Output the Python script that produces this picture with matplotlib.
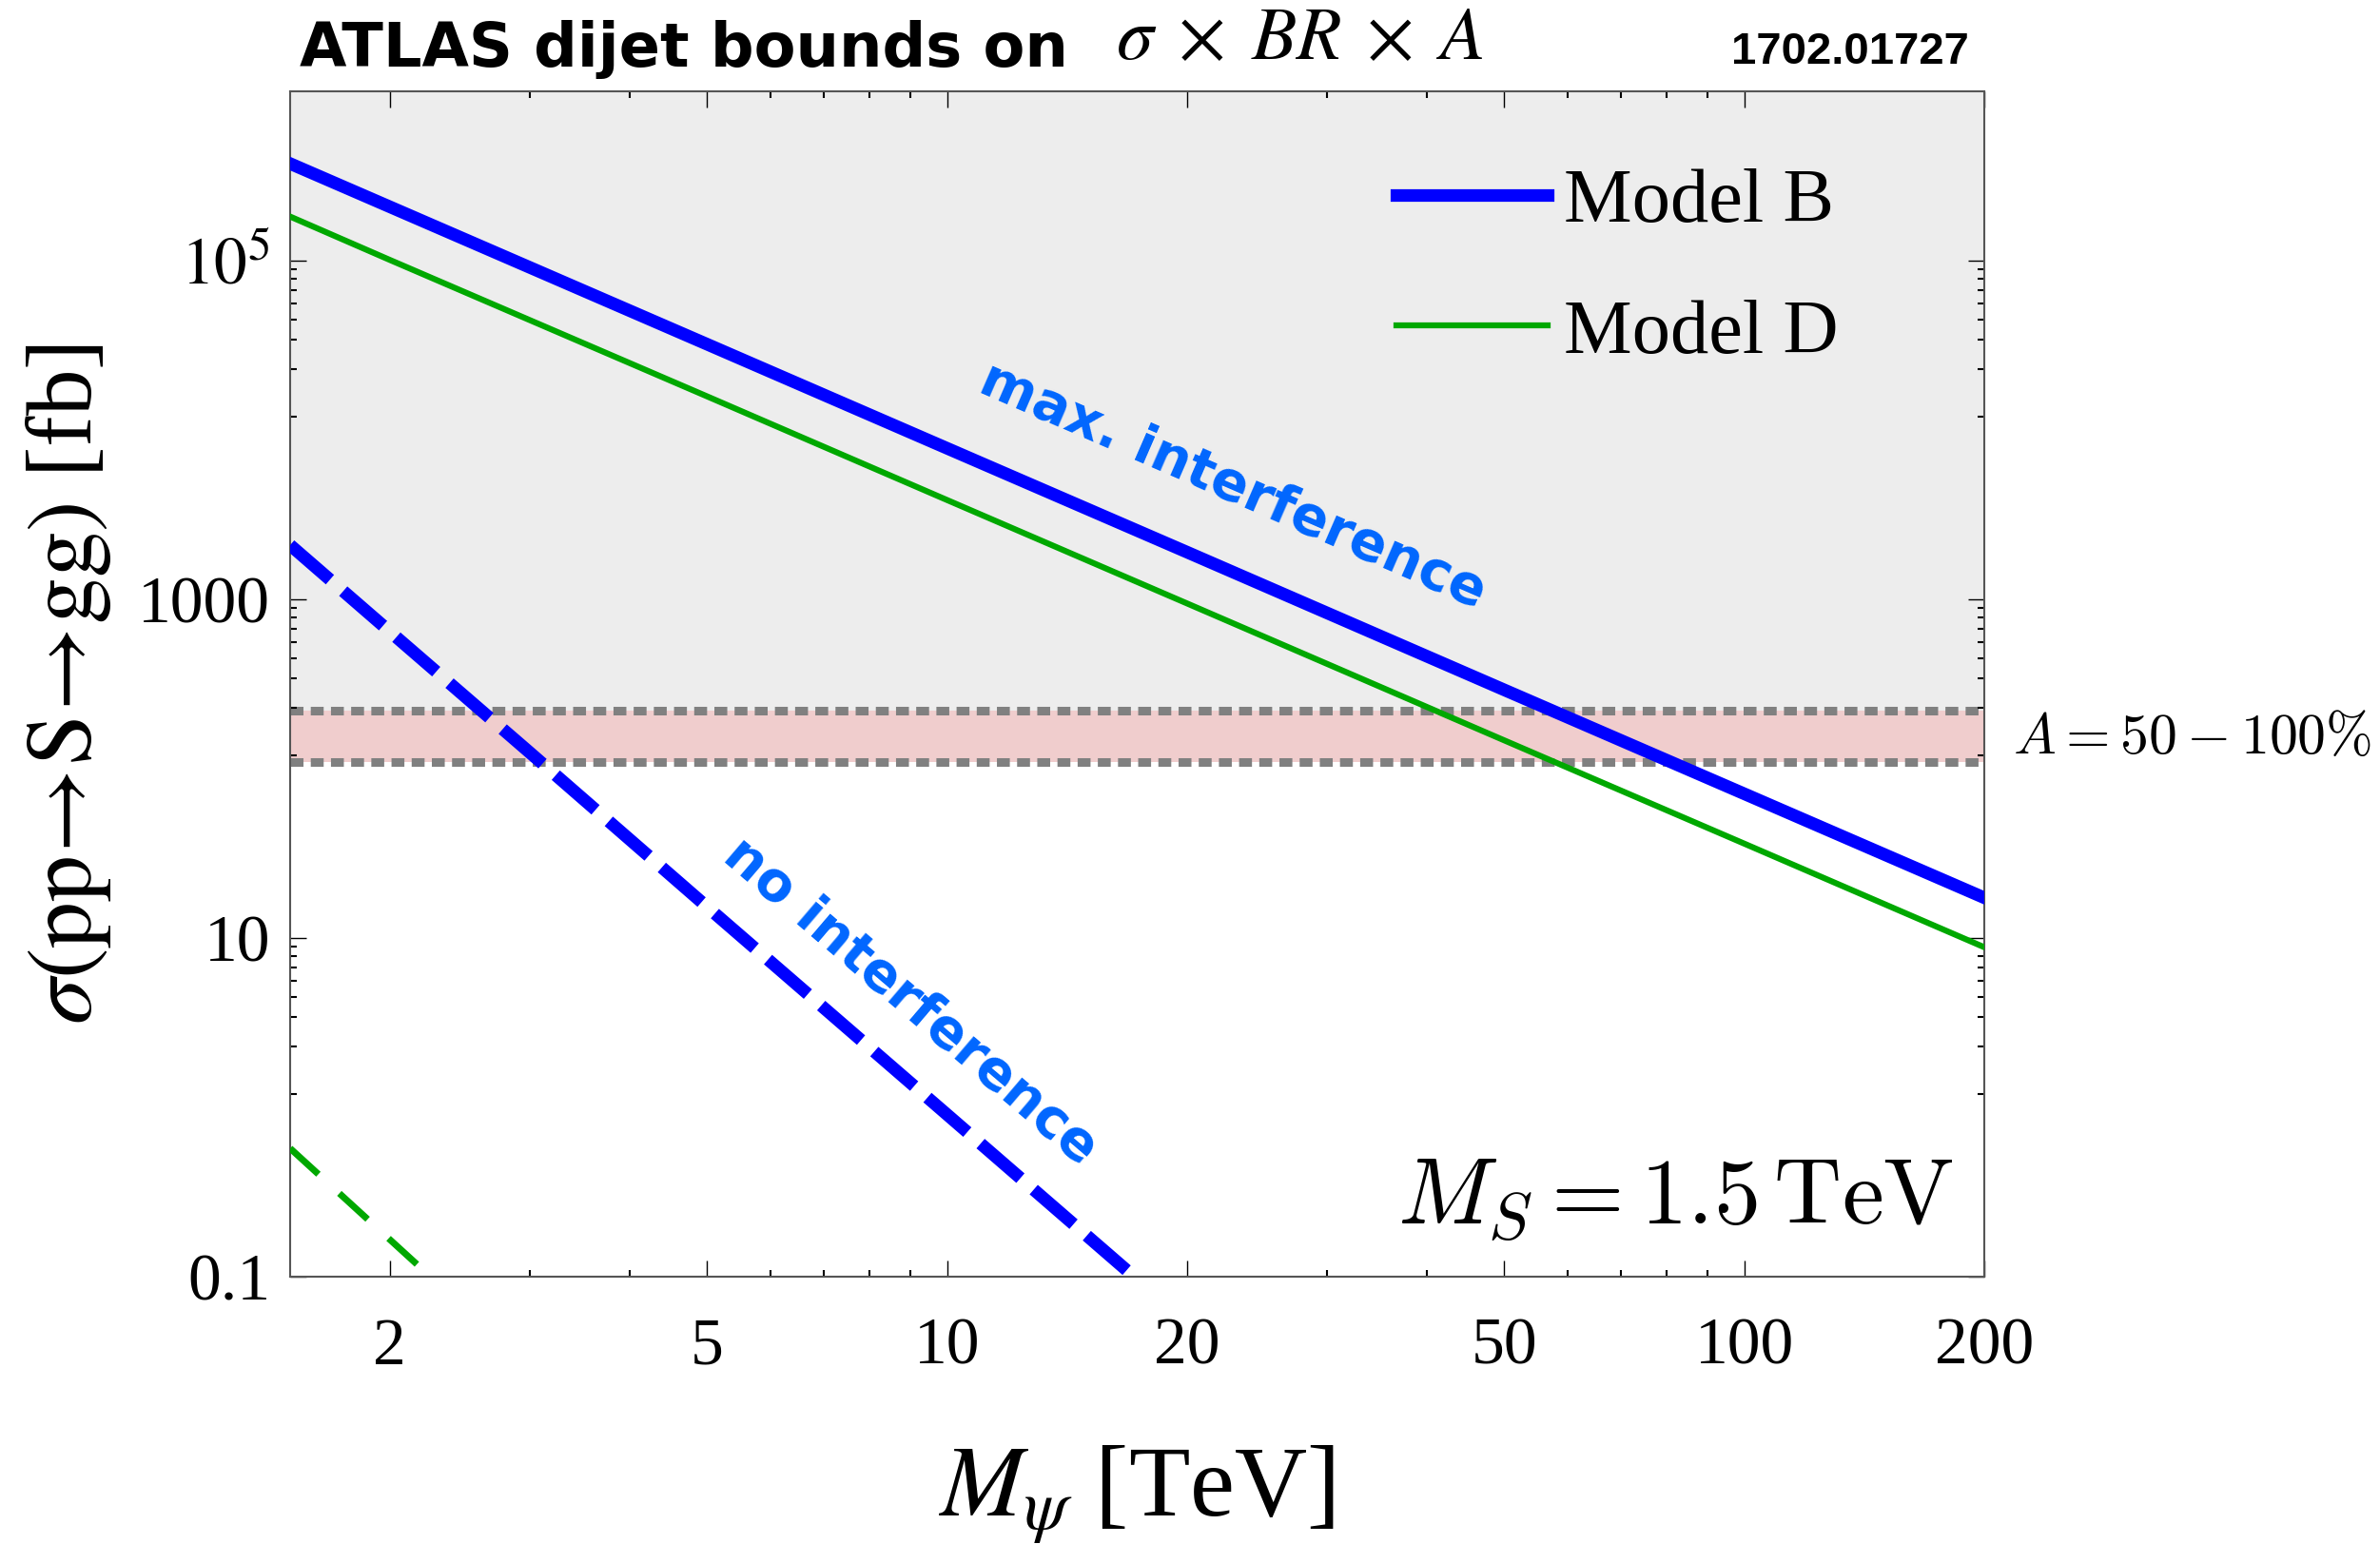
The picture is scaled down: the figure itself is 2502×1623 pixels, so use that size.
import numpy as np
import matplotlib
matplotlib.use("Agg")
import matplotlib.pyplot as plt
from matplotlib.ticker import FixedLocator, FixedFormatter, NullFormatter

plt.rcParams['font.family'] = ['Liberation Serif', 'DejaVu Sans']
plt.rcParams['mathtext.fontset'] = 'stix'

# ---------------- data ----------------
mass = [1.5, 2, 5, 10, 20, 50, 100, 200]                      # M_psi [TeV]
modelB_max = [3.74e5, 2.08e5, 3.21e4, 7.80e3, 1.90e3, 292, 71.1, 17.3]
modelD_max = [1.82e5, 1.01e5, 1.58e4, 3.86e3, 946, 147, 36.1, 8.83]

mass_noint_B = [1.5, 2, 3, 5, 10, 20]
modelB_noint = [2090, 646, 124, 15.3, 0.908, 0.0537]
mass_noint_D = [1.5, 2, 2.5]
modelD_noint = [0.573, 0.166, 0.0636]

band_low, band_high = 110, 220          # A = 50-100 %
xlim = (1.5, 200)
ylim = (0.1, 1e6)

x_major = [2, 5, 10, 20, 50, 100, 200]
x_minor = [3, 4, 6, 7, 8, 9, 30, 40, 60, 70, 80, 90]
y_major = [0.1, 10, 1000, 1e5]
y_major_labels = ['0.1', '10', '1000', r'$10^5$']

# ---------------- figure ----------------
fig = plt.figure(figsize=(25.02, 16.23), dpi=100)
ax = fig.add_axes([0.1219, 0.1731, 0.7118, 0.7678])
ax.set_xscale('log')
ax.set_yscale('log')
ax.set_xlim(*xlim)
ax.set_ylim(*ylim)

# shaded regions
ax.axhspan(band_high, ylim[1], color='#ededed', zorder=0, lw=0)
ax.axhspan(band_low, band_high, color='#f0cdcd', zorder=0, lw=0)
for yv in (band_low, band_high):
    ax.axhline(yv, color='#808080', lw=6.5, dashes=(1.5, 0.85), zorder=1)

blue = '#0000ff'
green = '#00a800'
ax.plot(mass, modelB_max, color=blue, lw=9.5, label='Model B', zorder=3)
ax.plot(mass, modelD_max, color=green, lw=4.5, label='Model D', zorder=3)
ax.plot(mass_noint_B, modelB_noint, color=blue, lw=9.5, dashes=(4.2, 1.4),
        zorder=3, label='_nolegend_')
ax.plot(mass_noint_D, modelD_noint, color=green, lw=5, dashes=(5.8, 4.3),
        zorder=3, label='_nolegend_')

# ticks
ax.xaxis.set_major_locator(FixedLocator(x_major))
ax.xaxis.set_major_formatter(FixedFormatter([str(v) for v in x_major]))
ax.xaxis.set_minor_locator(FixedLocator(x_minor))
ax.xaxis.set_minor_formatter(NullFormatter())
y_minor = []
for a, b in zip(y_major, y_major[1:] + [y_major[-1] * 100]):
    y_minor += [a + k * (b - a) / 9 for k in range(1, 9)]
ax.yaxis.set_major_locator(FixedLocator(y_major))
ax.yaxis.set_major_formatter(FixedFormatter(y_major_labels))
ax.yaxis.set_minor_locator(FixedLocator(y_minor))
ax.yaxis.set_minor_formatter(NullFormatter())
ax.tick_params(which='both', direction='in', top=True, right=True, colors='black')
ax.tick_params(which='major', length=12.5, width=1.0, labelsize=50)
ax.tick_params(axis='x', which='major', pad=31)
ax.tick_params(axis='y', which='major', pad=15)
ax.tick_params(which='minor', length=5, width=1.5)
for sp in ax.spines.values():
    sp.set_color('#555555')
    sp.set_linewidth(1.5)

# axis labels
ax.set_ylabel(r'$\sigma(\mathrm{pp}\!\rightarrow\!\mathrm{S}\!\rightarrow\!\mathrm{gg})$ [fb]',
              fontsize=70)
ax.yaxis.label.set_va('center')
ax.yaxis.set_label_coords(-0.131, 0.5)
fig.text(0.4778, 0.0185, r'$M_\psi$ [TeV]', fontsize=76, ha='center', va='baseline')

# legend
ax.legend(loc='center left', bbox_to_anchor=(0.5867, 0.8262), bbox_transform=fig.transFigure,
          frameon=False, fontsize=58, handlelength=1.98, handletextpad=0.2,
          labelspacing=0.8, borderpad=0, borderaxespad=0)

# annotations
lab_col = '#0066ff'
ax.text(0.5564, 0.667, 'max. interference', transform=ax.transAxes, rotation=-23.5,
        ha='center', va='center', fontsize=41, color=lab_col,
        family='DejaVu Sans', weight='bold', rotation_mode='anchor')
ax.text(0.366, 0.232, 'no interference', transform=ax.transAxes, rotation=-40.5,
        ha='center', va='center', fontsize=41, color=lab_col,
        family='DejaVu Sans', weight='bold', rotation_mode='anchor')
ax.text(0.982, 0.044, r'$M_S = 1.5\,\mathrm{TeV}$', transform=ax.transAxes,
        ha='right', va='baseline', fontsize=71, math_fontfamily='cm')
fig.text(0.8457, 0.512, r'$A = 50 - 100\%$', ha='left', va='baseline', fontsize=43,
         math_fontfamily='cm')

# title pieces
fig.text(0.1259, 0.9569, 'ATLAS dijet bounds on', ha='left', va='baseline',
         fontsize=46, family='DejaVu Sans', weight='bold')
fig.text(0.4688, 0.9618, r'$\sigma\;\times\;BR\;\times\;A$', ha='left', va='baseline',
         fontsize=56)
fig.text(0.8273, 0.9587, '1702.01727', ha='right', va='baseline', fontsize=34,
         family='Liberation Sans', weight='bold')

fig.savefig('out.png', dpi=100)
